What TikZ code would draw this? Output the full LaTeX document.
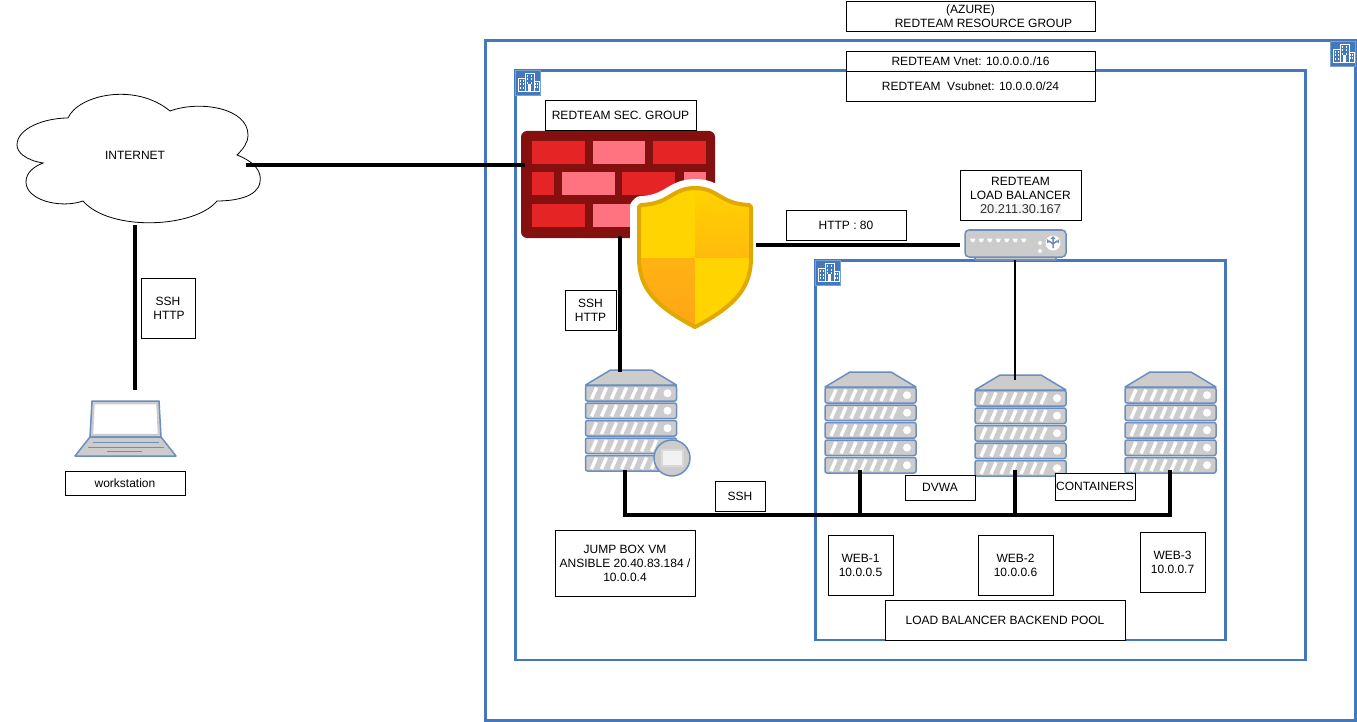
\documentclass[tikz,border=0pt]{standalone}
\usepackage{fontspec}
\setmainfont{Liberation Sans}
\definecolor{frameblue}{HTML}{4478BC}
\definecolor{devblue}{HTML}{6C8EBF}
\definecolor{devgray}{HTML}{CCCCCC}
\definecolor{walldark}{HTML}{851010}
\definecolor{wallred}{HTML}{E52525}
\definecolor{wallpink}{HTML}{FF7380}
\definecolor{shieldedge}{HTML}{E0A800}
\definecolor{shieldyellow}{HTML}{FFD400}
\definecolor{shieldorange}{HTML}{FFA518}
\newcommand{\shieldoutline}{(695,188) .. controls (672,188) and (670,204) .. (641,205) -- (639,207) -- (639,258) .. controls (639,288) and (655,306) .. (695,327) .. controls (735,306) and (751,288) .. (751,258) -- (751,207) -- (749,205) .. controls (720,204) and (718,188) .. (695,188) -- cycle}
\newcommand{\cloudoutline}{(68,118) .. controls (78,95) and (135,82) .. (170,111) .. controls (200,100) and (248,108) .. (248,135) .. controls (248,143) and (243,149) .. (237,155) .. controls (255,162) and (262,172) .. (260,182) .. controls (258,197) and (235,201) .. (217,201) .. controls (195,228) and (110,232) .. (83,201) .. controls (60,209) and (26,200) .. (26,182) .. controls (26,173) and (33,167) .. (43,163) .. controls (25,160) and (17,152) .. (17,145) .. controls (17,128) and (45,118) .. (68,118) -- cycle}
\tikzset{
	x=1pt, y=-1pt,
	box/.style={draw=black, fill=white, line width=1pt, inner sep=0pt, align=center, xshift=0pt, yshift=-0.3pt, font=\fontsize{12}{14}\selectfont},
	plain/.style={inner sep=0pt, align=center, font=\fontsize{12}{14}\selectfont},
	frame/.style={draw=frameblue, line width=2.8pt},
	heavy/.style={draw=black, line width=4pt},
	light/.style={draw=black, line width=1.5pt},
	dev/.style={draw=devblue, line width=1.5pt, fill=devgray, line join=round},
	server/.pic={
		\draw[dev] (0,15) -- (25,0) -- (66,0) -- (91,15) -- cycle;
		\foreach \y in {15.5,33,50.5,68,85.5} {
			\draw[dev, rounded corners=2pt] (0,\y) rectangle (91,\y+15.5);
			\foreach \x in {6,16,...,66}
				\draw[white, line width=3.4pt] (\x,\y+13.5) -- (\x+5,\y+2);
			\fill[white] (82,\y+7.7) circle (4);
		}
	},
	laptop/.pic={
		\draw[dev] (15,37) -- (17,1) -- (84,1) -- (86,37) -- cycle;
		\draw[devgray, line width=1.5pt, fill=white] (19,3.5) -- (82,3.5) -- (83.5,34.5) -- (17.5,34.5) -- cycle;
		\draw[dev] (15,37) -- (86,37) -- (101,56) -- (0,56) -- cycle;
		\draw[devblue, line width=1pt] (18,42) -- (84,42);
		\draw[devblue, line width=1pt] (13,47) -- (89,47);
		\draw[devblue, line width=1pt] (32,51) -- (67,51);
	},
	balancer/.pic={
		\draw[dev] (10,27) rectangle (91,30);
		\draw[dev, rounded corners=4pt] (0,0) rectangle (101,27);
		\foreach \x in {5,13.5,...,60}
			\fill[white] (\x,8.5) -- (\x+5.5,8.5) -- (\x+4,12) -- (\x+1.5,12) -- cycle;
		\fill[white] (75,13) circle (2);
		\fill[white] (75,21) circle (2);
		\fill[white] (88,13) circle (7.5);
		\draw[devblue, line width=1.5pt] (88,7) -- (88,18) (84,11) -- (88,14) -- (92,11);
		\fill[devblue] (85.5,9) -- (90.5,9) -- (88,6) -- cycle;
		\fill[devblue] (82,9) -- (85,12) -- (82,13) -- cycle;
		\fill[devblue] (94,9) -- (91,12) -- (94,13) -- cycle;
	},
	building/.pic={
		\draw[frameblue!70!white, line width=0.8pt, fill=frameblue] (0,0) rectangle (25,25);
		\draw[white, line width=0.7pt] (3,21) rectangle (10,8) (10,21) rectangle (19,3) (19,21) rectangle (24,11);
		\fill[white] (13,21) rectangle (16,14);
		\foreach \x in {4.5,7.5} \foreach \y in {10,13.5,17}
			\fill[white] (\x,\y) rectangle (\x+1.5,\y+2);
		\foreach \x in {11.5,15.5} \foreach \y in {5,8.5,12}
			\fill[white] (\x,\y) rectangle (\x+1.8,\y+2);
		\foreach \x in {20.3,22} \foreach \y in {13,16.5}
			\fill[white] (\x,\y) rectangle (\x+1,\y+2);
	}
}
\begin{document}
\begin{tikzpicture}
	\useasboundingbox (0,0) rectangle (1357,722);
	\draw[frame] (485.7,40.7) rectangle (1355.5,720.5);
	\draw[frame] (515.5,70.7) rectangle (1305.5,660);
	\draw[frame] (815.3,260.5) rectangle (1225.7,640);
	\pic at (1330,41) {building};
	\pic at (515,70) {building};
	\pic at (815,260) {building};
	\node[box, minimum width=249, minimum height=30] (azure) at (970.5,16) {(AZURE)\\\hspace*{26pt}REDTEAM RESOURCE GROUP};
	\node[box, minimum width=249, minimum height=20] (vnet) at (970.5,61) {REDTEAM Vnet: 10.0.0.0./16};
	\node[box, minimum width=249, minimum height=30] (vsubnet) at (970.5,86) {REDTEAM\ \ Vsubnet: 10.0.0.0/24};
	\draw[black, line width=0.8pt, fill=white] \cloudoutline;
	\node[plain] (internet) at (135,155.5) {INTERNET};
	\node[fill=walldark, rounded corners=6pt, inner sep=0pt, minimum width=194, minimum height=107] (firewall) at (618,184.5) {};
	\foreach \xa/\xb in {532/585,653/706} \fill[wallred] (\xa,141) rectangle (\xb,164);
	\fill[wallpink] (593,141) rectangle (645,164);
	\fill[wallred] (532,172) rectangle (554,195);
	\fill[wallpink] (562,172) rectangle (615,195);
	\fill[wallred] (622,172) rectangle (675,195);
	\fill[wallpink] (684,172) rectangle (706,195);
	\fill[wallred] (532,204) rectangle (585,227);
	\fill[wallpink] (593,204) rectangle (645,227);
	\draw[white, line width=18pt, line join=round, fill=white] \shieldoutline;
	\begin{scope}
		\clip \shieldoutline;
		\fill[shieldyellow] (639,186) rectangle (695,258);
		\shade[top color=shieldyellow, bottom color=shieldorange!55!shieldyellow] (695,186) rectangle (751,258);
		\shade[top color=shieldorange!70!shieldyellow, bottom color=shieldorange] (639,258) rectangle (695,329);
		\fill[shieldyellow] (695,258) rectangle (751,329);
	\end{scope}
	\draw[shieldedge, line width=4pt, line join=round] \shieldoutline;
	\pic (web1) at (825,372) {server};
	\pic (web2) at (975,375) {server};
	\pic (web3) at (1125,372) {server};
	\pic (jump) at (585.5,370) {server};
	\draw[dev] (672,458) circle (18);
	\draw[white!85!black, line width=1.5pt, fill=white!95!black] (662,450) rectangle (683,466);
	\pic (station) at (75,400) {laptop};
	\pic (lb) at (965,230) {balancer};
	\coordinate (internet east) at (246,165);
	\coordinate (internet south) at (135,225);
	\coordinate (station north) at (135,390);
	\coordinate (wall west) at (525,165);
	\coordinate (wall south) at (620,236);
	\coordinate (jump north) at (620,372);
	\coordinate (jump south) at (625,470);
	\coordinate (shield east) at (756,245);
	\coordinate (lb west) at (960,245);
	\coordinate (lb south) at (1015,260);
	\coordinate (web1 south) at (860,470);
	\coordinate (web2 north) at (1015,380);
	\coordinate (web2 south) at (1015,470);
	\coordinate (web3 south) at (1170,470);
	\coordinate (bus west) at (625,515);
	\coordinate (bus east) at (1172,515);
	\draw[heavy] (internet east) -- (wall west);
	\draw[heavy] (internet south) -- (station north);
	\draw[heavy] (wall south) -- (jump north);
	\draw[heavy] (shield east) -- (lb west);
	\draw[light] (lb south) -- (web2 north);
	\draw[heavy] (jump south) -- (bus west) -- (bus east);
	\draw[heavy] (web1 south) -- (web1 south |- bus west);
	\draw[heavy] (web2 south) -- (web2 south |- bus west);
	\draw[heavy] (web3 south) -- (web3 south |- bus west);
	\node[box, minimum width=151, minimum height=30] (secgroup) at (620.5,115.5) {REDTEAM SEC. GROUP};
	\node[box, minimum width=54, minimum height=60] (sshhttp1) at (168,308) {SSH\\\hspace*{2pt}HTTP};
	\node[box, minimum width=120, minimum height=24] (workstation) at (125,483) {workstation};
	\node[box, minimum width=51, minimum height=40] (sshhttp2) at (590.5,310) {SSH\\HTTP};
	\node[box, minimum width=120, minimum height=30] (http80) at (846,225) {HTTP : 80};
	\node[box, minimum width=121, minimum height=50] (lbtext) at (1020.5,195) {REDTEAM\\LOAD BALANCER\\{\fontsize{12.8}{14}\selectfont\setlength{\fboxsep}{0.5pt}\colorbox{black!4}{\color{black!80}20.211.30.167}}};
	\node[box, minimum width=70, minimum height=25] (dvwa) at (940,487.5) {DVWA};
	\node[box, minimum width=80, minimum height=27] (containers) at (1095,486.5) {CONTAINERS};
	\node[box, minimum width=50, minimum height=30] (sshbus) at (740,496) {SSH};
	\node[box, minimum width=140, minimum height=66] (jumpbox) at (625,563) {JUMP BOX VM\\ANSIBLE 20.40.83.184 /\\10.0.0.4};
	\node[box, minimum width=65, minimum height=60] (webone) at (860.5,565) {WEB-1\\10.0.0.5};
	\node[box, minimum width=75, minimum height=60] (webtwo) at (1015.5,565) {WEB-2\\10.0.0.6};
	\node[box, minimum width=65, minimum height=60] (webthree) at (1172.5,562) {WEB-3\\10.0.0.7};
	\node[box, minimum width=240, minimum height=40] (backend) at (1005,620) {LOAD BALANCER BACKEND POOL};
\end{tikzpicture}
\end{document}
